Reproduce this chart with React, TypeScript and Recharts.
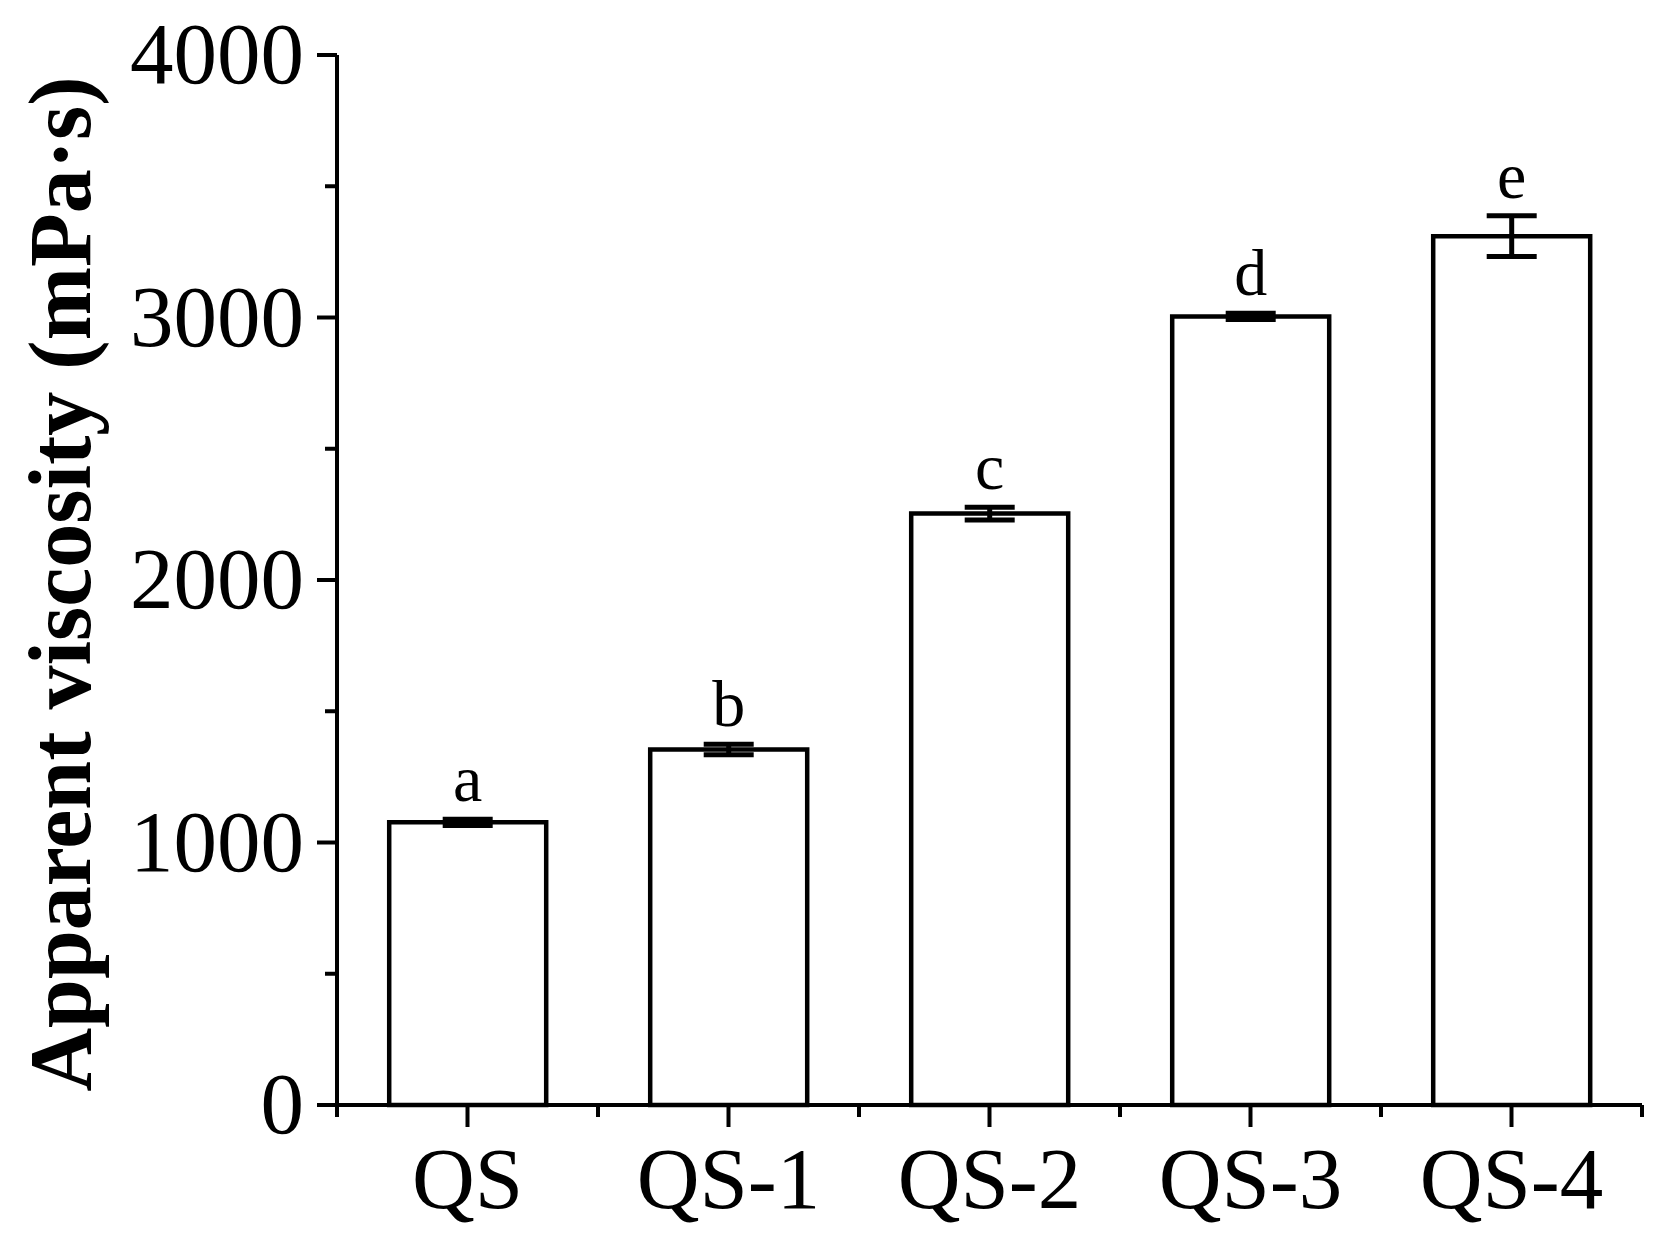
import { BarChart, Bar, XAxis, YAxis, ErrorBar, LabelList } from "recharts";

const samples = ["QS", "QS-1", "QS-2", "QS-3", "QS-4"];
const viscosity = [1077, 1354, 2253, 3004, 3310];
const viscosityErr = [12, 20, 24, 12, 78];
const letters = ["a", "b", "c", "d", "e"];
const yTicks = [0, 500, 1000, 1500, 2000, 2500, 3000, 3500, 4000];

const FONT = '"Liberation Serif", "Times New Roman", serif';

const chartData = samples.map((name, i) => ({
  name,
  value: viscosity[i],
  err: viscosityErr[i],
  letter: letters[i],
}));

function YTick(props: any) {
  const { x, y, payload } = props;
  const major = payload.value % 1000 === 0;
  return (
    <g>
      <line
        x1={x + (major ? 13 : 21)}
        x2={x + 33}
        y1={y}
        y2={y}
        stroke="#000"
        strokeWidth={4}
      />
      {major && (
        <text
          x={x}
          y={y + 28}
          textAnchor="end"
          fontFamily={FONT}
          fontSize={87}
          fill="#000"
        >
          {payload.value}
        </text>
      )}
    </g>
  );
}

function XTick(props: any) {
  const { x, y, payload, index } = props;
  const axisY = y - 22;
  const half = payload.offset || 130.5;
  return (
    <g>
      <line x1={x} x2={x} y1={axisY} y2={axisY + 22} stroke="#000" strokeWidth={4} />
      <line
        x1={x - half}
        x2={x - half}
        y1={axisY}
        y2={axisY + 12}
        stroke="#000"
        strokeWidth={4}
      />
      {index === samples.length - 1 && (
        <line
          x1={x + half}
          x2={x + half}
          y1={axisY}
          y2={axisY + 12}
          stroke="#000"
          strokeWidth={4}
        />
      )}
      <text
        x={x}
        y={axisY + 103}
        textAnchor="middle"
        fontFamily={FONT}
        fontSize={87}
        fill="#000"
      >
        {payload.value}
      </text>
    </g>
  );
}

function LetterLabel(props: any) {
  const { x, y, width, height, index } = props;
  const errPx = (viscosityErr[index] * height) / viscosity[index];
  return (
    <text
      x={x + width / 2}
      y={y - errPx - 18}
      textAnchor="middle"
      fontFamily={FONT}
      fontSize={66}
      fill="#000"
    >
      {letters[index]}
    </text>
  );
}

function YTitle(props: any) {
  const { viewBox } = props;
  const cx = viewBox.x + 82;
  const cy = viewBox.y + viewBox.height / 2 + 4;
  return (
    <text
      x={cx}
      y={cy}
      transform={`rotate(-90, ${cx}, ${cy})`}
      textAnchor="middle"
      fontFamily={FONT}
      fontWeight="bold"
      fontSize={88}
      fill="#000"
    >
      Apparent viscosity (mPa·s)
    </text>
  );
}

export default function App() {
  return (
    <div style={{ width: 1645, height: 1229, background: "#fff" }}>
      <BarChart
        width={1645}
        height={1229}
        data={chartData}
        margin={{ top: 47, right: 11, left: 0, bottom: 0 }}
        barCategoryGap="20%"
      >
        <XAxis
          dataKey="name"
          height={132}
          axisLine={{ stroke: "#000", strokeWidth: 4 }}
          tickLine={false}
          tickSize={22}
          tickMargin={0}
          tick={<XTick />}
          interval={0}
        />
        <YAxis
          width={329}
          domain={[0, 4000]}
          ticks={yTicks}
          interval={0}
          axisLine={{ stroke: "#000", strokeWidth: 4 }}
          tickLine={false}
          tickSize={20}
          tickMargin={13}
          tick={<YTick />}
          label={<YTitle />}
        />
        <Bar
          dataKey="value"
          fill="#fff"
          stroke="#000"
          strokeWidth={4.5}
          isAnimationActive={false}
        >
          <ErrorBar dataKey="err" width={25} stroke="#000" strokeWidth={5} />
          <LabelList dataKey="letter" content={<LetterLabel />} />
        </Bar>
      </BarChart>
    </div>
  );
}
